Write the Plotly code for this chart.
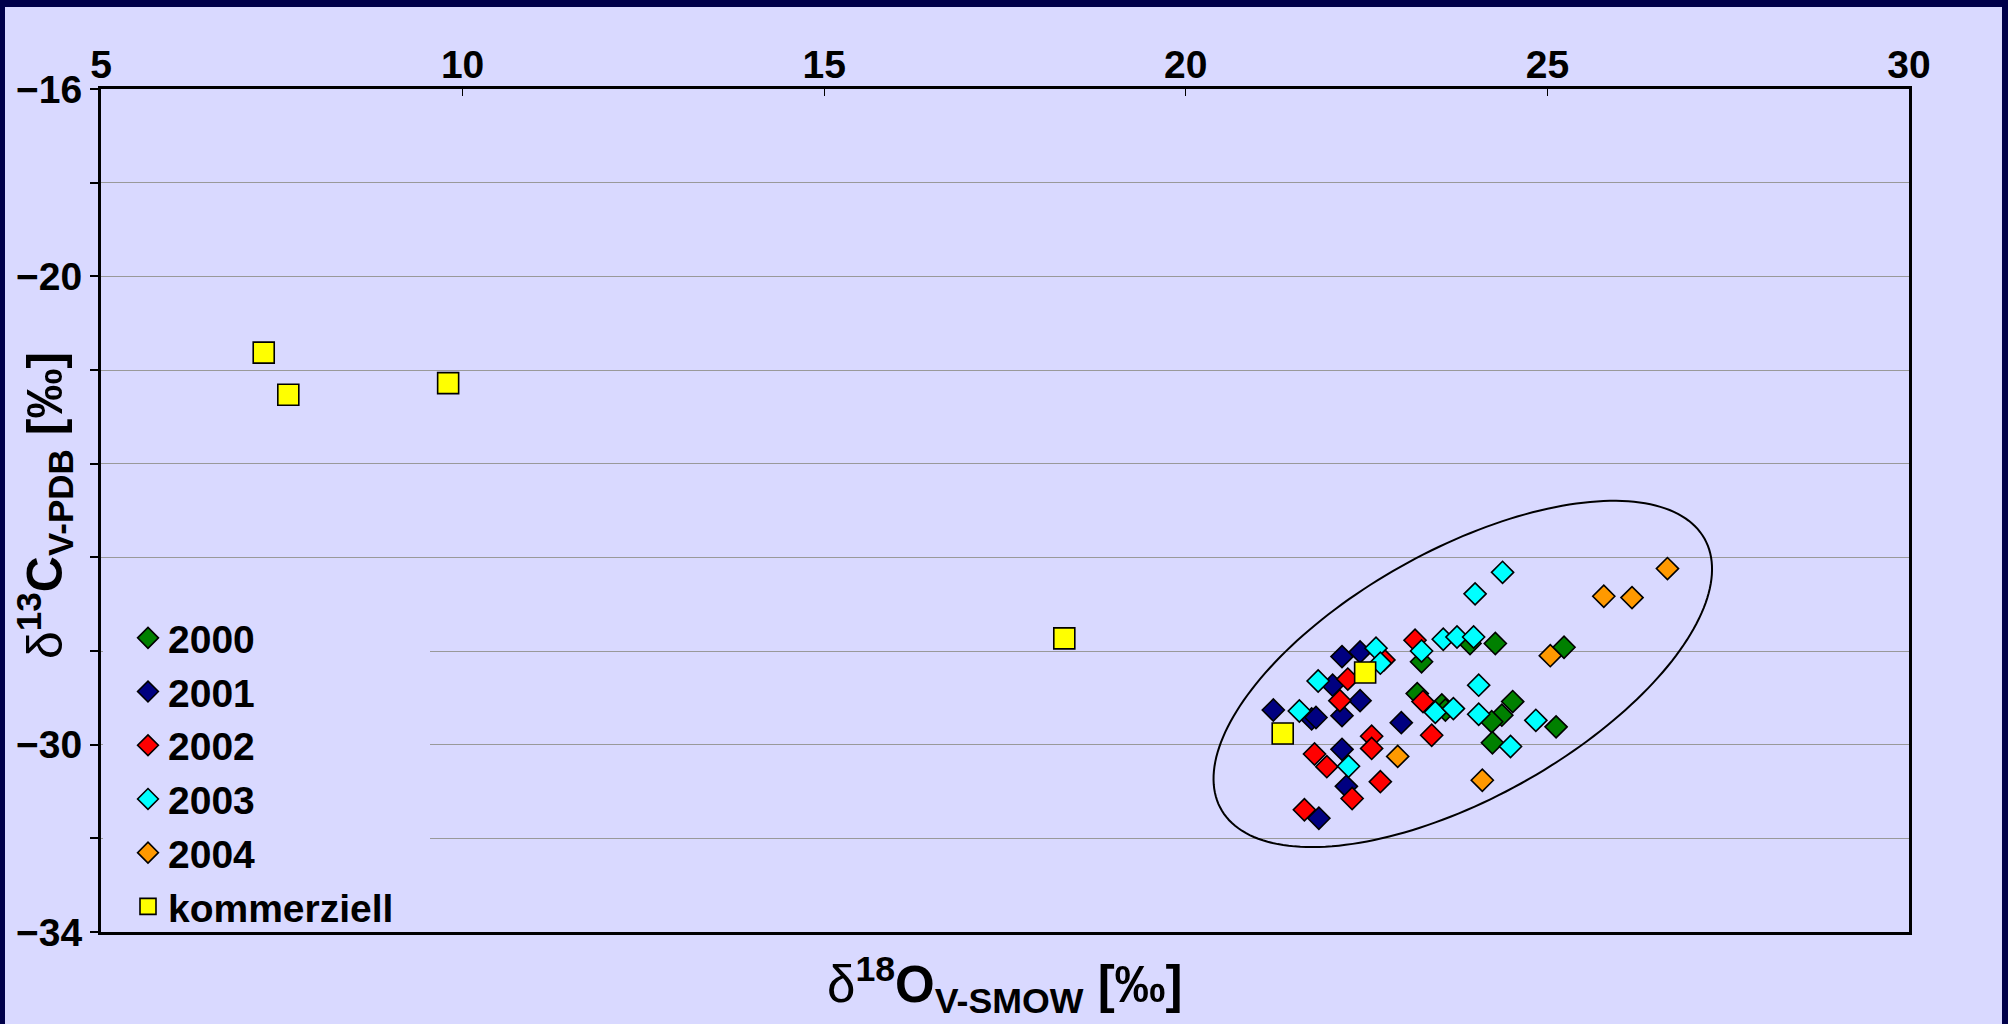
import numpy as np
import plotly.graph_objects as go

# ---------------- data ----------------
x_2000 = [24.28, 25.23, 23.26, 23.20, 23.54, 23.59, 23.93, 24.52, 24.37, 24.23, 24.24, 25.12]
y_2000 = [-27.84, -27.92, -28.23, -28.91, -29.15, -29.26, -27.84, -29.08, -29.37, -29.51, -29.96, -29.62]

x_2001 = [21.21, 21.74, 21.80, 22.16, 22.41, 22.03, 22.41, 22.16, 22.98, 22.16, 22.22, 21.84]
y_2001 = [-29.26, -29.45, -29.42, -28.12, -28.02, -28.73, -29.06, -29.38, -29.53, -30.10, -30.89, -31.57]

x_2002 = [23.17, 22.74, 22.24, 22.13, 23.28, 23.40, 22.57, 22.57, 21.78, 21.95, 22.69, 22.30, 21.64]
y_2002 = [-27.77, -28.19, -28.60, -29.06, -29.08, -29.80, -29.82, -30.08, -30.20, -30.47, -30.79, -31.15, -31.39]

x_2003 = [24.38, 24.00, 23.56, 23.75, 23.98, 23.26, 22.63, 22.69, 21.83, 21.57, 24.05, 23.45, 23.70, 24.05, 24.84, 24.49, 22.25]
y_2003 = [-26.32, -26.78, -27.75, -27.70, -27.70, -28.00, -27.94, -28.26, -28.64, -29.28, -28.73, -29.31, -29.23, -29.35, -29.48, -30.04, -30.46]

x_2004 = [26.66, 25.78, 26.17, 25.04, 24.10, 22.93]
y_2004 = [-26.24, -26.83, -26.86, -28.10, -30.76, -30.25]

x_komm = [7.25, 7.59, 9.80, 18.32, 22.48, 21.34]
y_komm = [-21.63, -22.53, -22.28, -27.73, -28.46, -29.76]

series_names = ["2000", "2001", "2002", "2003", "2004", "kommerziell"]
series_colors = ["#008000", "#000080", "#FF0000", "#00FFFF", "#FF9900", "#FFFF00"]
series_symbols = ["diamond", "diamond", "diamond", "diamond", "diamond", "square"]
series_sizes = [17, 17, 17, 17, 17, 21]

x_range = [5, 30]
y_range = [-34, -16]
x_tickvals = [5, 10, 15, 20, 25, 30]
y_tickvals = [-34, -30, -20, -16]
y_minor_tickvals = [-32, -28, -26, -24, -22, -18]

# ellipse (annotation) parameters
ell_center = (23.83, -28.49)
ell_semi_px = (277, 124)
ell_angle_deg = 29.2

# ---------------- layout geometry ----------------
W, H = 2008, 1024
ML, MR, MT, MB = 101, 99, 89, 92
PW, PH = W - ML - MR, H - MT - MB
px_per_x = PW / (x_range[1] - x_range[0])
px_per_y = PH / (y_range[1] - y_range[0])

FONT = "Liberation Sans, Arial, sans-serif"
LAV = "#D9D9FF"
NAVY = "#00004A"
GRID = "#999999"

def px2paper_x(px):
    return (px - ML) / PW

def px2paper_y(py):
    return 1 - (py - MT) / PH

fig = go.Figure()
xs = [x_2000, x_2001, x_2002, x_2003, x_2004, x_komm]
ys = [y_2000, y_2001, y_2002, y_2003, y_2004, y_komm]
for xv, yv, n, c, s, sz in zip(xs, ys, series_names, series_colors, series_symbols, series_sizes):
    fig.add_trace(go.Scatter(
        x=xv, y=yv, mode="markers", name=n,
        marker=dict(symbol=s, size=sz, color=c, line=dict(color="black", width=1.6)),
    ))

# ellipse path
t = np.linspace(0, 2 * np.pi, 200)
th = np.deg2rad(ell_angle_deg)
a, b = ell_semi_px
dx = a * np.cos(t) * np.cos(th) - b * np.sin(t) * np.sin(th)
dy = a * np.cos(t) * np.sin(th) + b * np.sin(t) * np.cos(th)
ex = ell_center[0] + dx / px_per_x
ey = ell_center[1] + dy / px_per_y
path = "M " + " L ".join(f"{u:.4f},{v:.4f}" for u, v in zip(ex, ey)) + " Z"

shapes = [
    # lavender panel inside navy frame
    dict(type="rect", xref="paper", yref="paper", layer="below",
         x0=px2paper_x(5), x1=px2paper_x(2002), y0=px2paper_y(1030), y1=px2paper_y(7),
         fillcolor=LAV, line=dict(width=0)),
    # legend background panel
    dict(type="rect", xref="paper", yref="paper", layer="above",
         x0=px2paper_x(103), x1=px2paper_x(430), y0=px2paper_y(929), y1=px2paper_y(600),
         fillcolor=LAV, line=dict(width=0)),
    dict(type="path", xref="x", yref="y", path=path, line=dict(color="black", width=2),
         fillcolor="rgba(0,0,0,0)"),
]

annotations = [
    dict(text="<span style='font-weight:normal'>δ</span><sup>18</sup>O<sub>V-SMOW</sub> [‰]",
         xref="paper", yref="paper", x=0.5, y=px2paper_y(985), xanchor="center", yanchor="middle",
         showarrow=False, font=dict(family=FONT, size=51, color="black", weight="bold")),
    dict(text="<span style='font-weight:normal'>δ</span><sup>13</sup>C<sub>V-PDB</sub> [‰]",
         xref="paper", yref="paper", x=px2paper_x(44), y=px2paper_y(506), xanchor="center", yanchor="middle",
         textangle=-90, showarrow=False, font=dict(family=FONT, size=50, color="black", weight="bold")),
]

fig.update_layout(
    width=W, height=H,
    margin=dict(l=ML, r=MR, t=MT, b=MB, pad=0),
    paper_bgcolor=NAVY, plot_bgcolor=LAV,
    font=dict(family=FONT, color="black"),
    showlegend=True,
    legend=dict(x=px2paper_x(128), y=px2paper_y(606), xanchor="left", yanchor="top",
                bgcolor="rgba(0,0,0,0)", borderwidth=0,
                font=dict(family=FONT, size=39, color="black", weight="bold"),
                itemsizing="trace", tracegroupgap=0),
    shapes=shapes,
    annotations=annotations,
    xaxis=dict(range=x_range, side="top", tickvals=x_tickvals, ticks="inside", ticklen=7,
               tickwidth=1, tickcolor="black", showgrid=False, zeroline=False,
               showline=True, linecolor="black", linewidth=3, mirror=True,
               ticklabelstandoff=-8,
               tickfont=dict(family=FONT, size=39, color="black", weight="bold")),
    yaxis=dict(range=y_range, tickvals=y_tickvals, ticks="outside", ticklen=8,
               tickwidth=1.5, tickcolor="black", showgrid=True, gridcolor=GRID, gridwidth=1,
               minor=dict(tickvals=y_minor_tickvals, ticks="outside", ticklen=8, tickwidth=1.5,
                          tickcolor="black", showgrid=True, gridcolor=GRID, gridwidth=1),
               zeroline=False, showline=True, linecolor="black", linewidth=3, mirror=True,
               tickfont=dict(family=FONT, size=39, color="black", weight="bold")),
)

fig.write_html("out.html")
